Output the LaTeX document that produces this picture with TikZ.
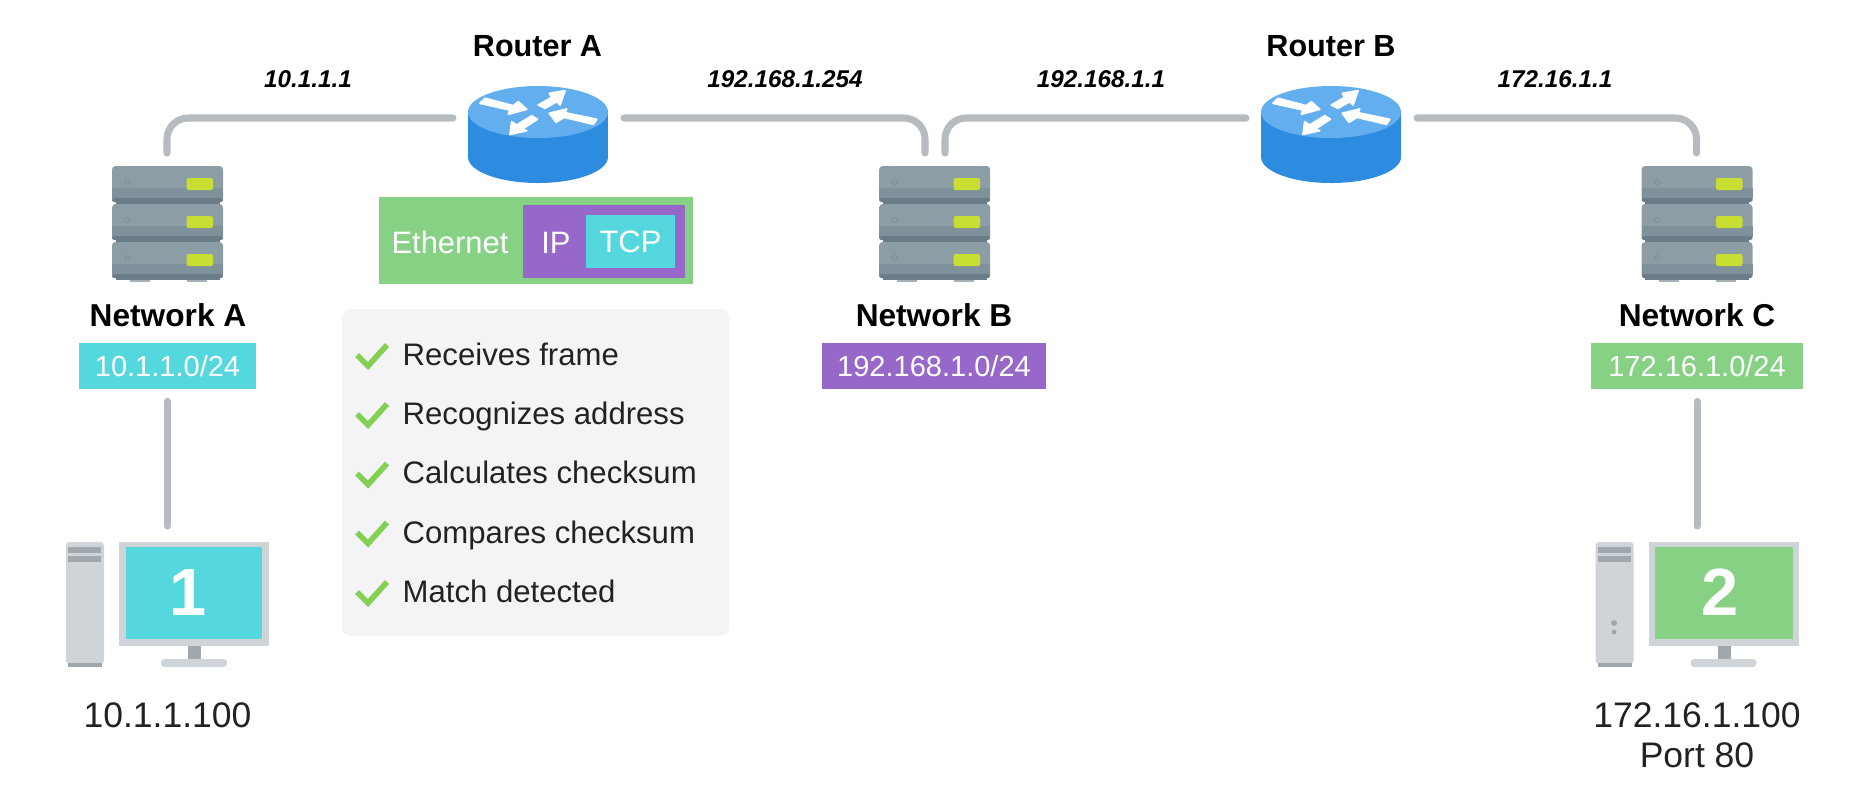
\documentclass[tikz,border=0pt]{standalone}
\usepackage{fontspec}
\setmainfont{Liberation Sans}
\usetikzlibrary{arrows,positioning,calc}
\definecolor{wiregray}{RGB}{182,187,192}
\definecolor{tealbox}{RGB}{84,216,222}
\definecolor{greenbox}{RGB}{134,209,132}
\definecolor{purplebox}{RGB}{151,104,201}
\definecolor{routertop}{RGB}{98,174,238}
\definecolor{routerside}{RGB}{45,139,224}
\definecolor{serverbody}{RGB}{141,157,166}
\definecolor{servermid}{RGB}{127,145,155}
\definecolor{serverband}{RGB}{105,124,135}
\definecolor{serverfoot}{RGB}{165,176,184}
\definecolor{serverled}{RGB}{200,222,50}
\definecolor{pcgray}{RGB}{207,212,217}
\definecolor{pcdark}{RGB}{160,168,173}
\definecolor{panelgray}{RGB}{244,244,246}
\definecolor{checkgreen}{RGB}{130,209,82}
\definecolor{inktext}{RGB}{34,34,34}

\begin{document}
\begin{tikzpicture}[
    x=0.01cm, y=-0.01cm,
    wire/.style={draw=wiregray, line width=2pt, line cap=round, rounded corners=6pt},
    flow/.style={fill=white, draw=white, line width=0.5pt, line join=round},
    tag/.style={rectangle, inner sep=0pt, minimum height=0.46cm, text=white, font=\fontsize{8.25}{10}\selectfont, text height=5.9pt, text depth=0pt},
    devname/.style={font=\bfseries\fontsize{9}{11}\selectfont, text=black, text height=6.4pt, text depth=0pt, inner sep=0pt},
    portaddr/.style={font=\bfseries\itshape\fontsize{6.9}{9}\selectfont, text=black, text height=5pt, text depth=0pt, inner sep=0pt},
    layer/.style={rectangle, inner sep=0pt, text=white, font=\fontsize{8.8}{10}\selectfont, text height=6.3pt, text depth=0pt},
    item/.style={anchor=west, inner sep=0pt, text=inktext, font=\fontsize{8.85}{10}\selectfont, text height=6.3pt, text depth=0pt},
    hostaddr/.style={inner sep=0pt, text=inktext, font=\fontsize{10.1}{11.4}\selectfont, align=center},
    screennum/.style={inner sep=0pt, text=white, font=\bfseries\fontsize{19}{20}\selectfont, text height=13.6pt, text depth=0pt},
    router/.pic={
        \fill[routerside] (-70,26) rectangle (70,71);
        \fill[routerside] (0,71) ellipse[x radius=70, y radius=26];
        \fill[routertop] (0,26) ellipse[x radius=70, y radius=26];
        \path[flow] (-58,17.3) -- (-53,12.3) -- (-24.7,19.7) -- (-19.7,15.7) -- (-11.3,23.3) -- (-29.7,28.3) -- (-28,24) -- cycle;
        \path[flow] (27,4.7) -- (11.3,7.3) -- (13.7,11.3) -- (0.3,19) -- (7,22.3) -- (18.7,15.7) -- (22,19) -- cycle;
        \path[flow] (58.7,33.3) -- (55.3,38.3) -- (26,31.3) -- (18,36.3) -- (11.3,27.3) -- (28.7,23) -- (27,26.7) -- cycle;
        \path[flow] (-28,48.3) -- (-26.3,35.7) -- (-21.3,39) -- (-6.3,29.7) -- (-0.7,33.3) -- (-15.7,43) -- (-11.3,44.7) -- cycle;
        \coordinate (-w) at (-85,32);
        \coordinate (-e) at (86,32);
    },
    serverunit/.pic={
        \fill[serverband] (-52,35) rectangle (52,38);
        \fill[serverbody, rounded corners=1pt] (-55.5,0) rectangle (55.5,36);
        \fill[servermid] (-55.5,22) rectangle (55.5,33);
        \fill[serverband, rounded corners=0.5pt] (-55.5,32) rectangle (55.5,36);
        \fill[serverled, rounded corners=0.6pt] (19,12) rectangle (45.5,24);
        \draw[servermid, line width=0.3pt] (-40,16) circle[radius=2.5];
    },
    server/.pic={
        \fill[serverfoot] (-38,112) rectangle (-18,116);
        \fill[serverfoot] (19,112) rectangle (39,116);
        \pic at (0,0) {serverunit};
        \pic at (0,38) {serverunit};
        \pic at (0,76) {serverunit};
        \coordinate (-n) at (-0.5,-13);
        \coordinate (-nl) at (-9.6,-13);
        \coordinate (-nr) at (10.4,-13);
    },
    pc/.pic={
        \fill[pcgray, rounded corners=1pt] (0,0) rectangle (38,122);
        \fill[pcdark] (2,5) rectangle (35,11);
        \fill[pcdark] (2,14) rectangle (35,20);
        \fill[pcdark] (2,121) rectangle (36,125);
        \fill[pcgray] (53,0) rectangle (203,104);
        \fill[pcdark] (122,104) rectangle (135,117);
        \fill[pcgray, rounded corners=1pt] (95,117) rectangle (161,125);
        \coordinate (-n) at (101.5,-16);
    },
    check/.pic={
        \draw[checkgreen, line width=1.6pt] (1,12) -- (12,23) -- (31,2);
    }
]
    \useasboundingbox (0,0) rectangle (1852,799);

    % Routers
    \pic (routerA) at (538,86) {router};
    \pic (routerB) at (1331,86) {router};
    \node[devname, font=\bfseries\fontsize{8.7}{11}\selectfont] (routerAname) at (537.5,45) {Router A};
    \node[devname, font=\bfseries\fontsize{8.7}{11}\selectfont] (routerBname) at (1331,45) {Router B};

    % Servers
    \pic (serverA) at (167.5,166) {server};
    \pic (serverB) at (934.6,166) {server};
    \pic (serverC) at (1697,166) {server};
    \node[devname] (netA) at (168,315) {Network A};
    \node[devname] (netB) at (934,315) {Network B};
    \node[devname] (netC) at (1697,315) {Network C};

    % Subnets
    \node[tag, fill=tealbox, minimum width=1.77cm] (subnetA) at (167.5,366) {10.1.1.0/24};
    \node[tag, fill=purplebox, minimum width=2.24cm] (subnetB) at (934,366) {192.168.1.0/24};
    \node[tag, fill=greenbox, minimum width=2.11cm] (subnetC) at (1697,366) {172.16.1.0/24};

    % Interface addresses
    \node[portaddr] (ifA) at (308,79) {10.1.1.1};
    \node[portaddr] (ifB) at (785,79) {192.168.1.254};
    \node[portaddr] (ifC) at (1101,79) {192.168.1.1};
    \node[portaddr] (ifD) at (1555,79) {172.16.1.1};

    % Packet
    \node[layer, fill=greenbox, minimum width=3.14cm, minimum height=0.87cm] (frame) at (536,240.5) {};
    \node[layer, fill=purplebox, minimum width=1.62cm, minimum height=0.73cm] (ipbox) at (604,241.5) {};
    \node[layer, fill=tealbox, minimum width=0.89cm, minimum height=0.53cm] (tcpbox) at (630.5,241.5) {TCP};
    \node[layer] (ethtext) at (450,242) {Ethernet};
    \node[layer] (iptext) at (556,242) {IP};

    % Checklist
    \fill[panelgray, rounded corners=2.5pt] (342,309) rectangle (729,636);
    \pic at (356,343) {check};
    \pic at (356,402) {check};
    \pic at (356,461.5) {check};
    \pic at (356,520.5) {check};
    \pic at (356,580) {check};
    \node[item] (item1) at (402,354) {Receives frame};
    \node[item] (item2) at (402,413) {Recognizes address};
    \node[item] (item3) at (402,472) {Calculates checksum};
    \node[item] (item4) at (402,532) {Compares checksum};
    \node[item] (item5) at (402,591) {Match detected};

    % Hosts
    \pic (pcA) at (66,542) {pc};
    \fill[tealbox] (126,547) rectangle (262,639);
    \node[screennum] (num1) at (188,592) {1};
    \node[hostaddr] (hostA) at (167.5,715) {10.1.1.100};

    \pic (pcC) at (1595.5,542) {pc};
    \fill[greenbox] (1655,547) rectangle (1793,639);
    \fill[pcdark] (1614,623) circle[radius=3];
    \fill[pcdark] (1614,632) circle[radius=2.5];
    \node[screennum] (num2) at (1720,592) {2};
    \node[hostaddr] (hostC) at (1697,735) {172.16.1.100\\Port 80};

    % Wires
    \draw[wire] (serverA-n) |- (routerA-w);
    \draw[wire] (routerA-e) -| (serverB-nl);
    \draw[wire] (serverB-nr) |- (routerB-w);
    \draw[wire] (routerB-e) -| (serverC-n);
    \draw[wire, shorten <=3.3pt] (subnetA.south) -- (pcA-n);
    \draw[wire, shorten <=3.3pt] (subnetC.south) -- (pcC-n);
\end{tikzpicture}
\end{document}
